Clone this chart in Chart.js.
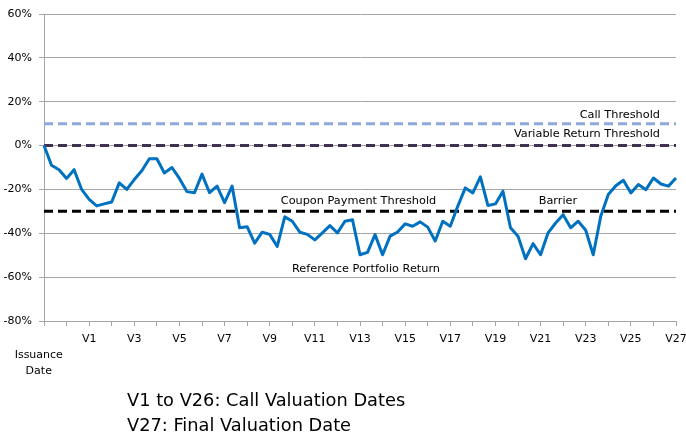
<!DOCTYPE html>
<html lang="en">
<head>
  <meta charset="UTF-8" />
  <title>Reference Portfolio Return</title>
  <script src="https://cdn.jsdelivr.net/npm/chart.js"></script>
  <style>
    body { margin: 0; background: #fff; }
    #wrap { position: relative; width: 686px; height: 437px; }
    #note {
      position: absolute; left: 127px; top: 387px;
      font-family: 'DejaVu Sans', sans-serif; font-size: 17.8px; line-height: 25px; color: #000;
    }
  </style>
</head>
<body>
  <div id="wrap">
    <canvas id="grafico" width="686" height="437"></canvas>
    <div id="note">V1 to V26: Call Valuation Dates<br>V27: Final Valuation Date</div>
  </div>

  <script>
    const valuationDates = ['V1', 'V2', 'V3', 'V4', 'V5', 'V6', 'V7', 'V8', 'V9', 'V10', 'V11', 'V12', 'V13', 'V14',
      'V15', 'V16', 'V17', 'V18', 'V19', 'V20', 'V21', 'V22', 'V23', 'V24', 'V25', 'V26', 'V27'];
    const pointsPerPeriod = 3;

    // reference portfolio return, in %
    const portfolioReturn = [
      0, -9, -11, -15, -11, -20, -24.5, -27.5, -26.6, -25.7,
      -17, -20, -15.5, -11.5, -6, -6, -12.5, -10, -15, -21,
      -21.5, -13, -21.5, -18.5, -26, -18.5, -37.5, -37, -44.5, -39.5,
      -40.5, -46, -32.5, -34.5, -39.5, -40.5, -43, -39.8, -36.5, -39.8,
      -34.5, -33.8, -49.8, -48.7, -40.6, -49.8, -41.3, -39.4, -35.7, -36.8,
      -34.8, -37.2, -43.5, -34.5, -36.8, -27.6, -19.3, -21.6, -14.3, -27.3,
      -26.6, -20.8, -37.5, -41.3, -51.6, -44.7, -49.8, -39.8, -35.3, -31.5,
      -37.5, -34.5, -38.6, -49.8, -32.2, -22.3, -18.3, -15.8, -21.6, -17.8,
      -20.1, -14.8, -17.5, -18.5, -14.8
    ];

    const callThreshold = 10;
    const variableReturnThreshold = 0;
    const barrier = -30;

    const yMin = -80, yMax = 60, yStep = 20;

    const categories = portfolioReturn.map((_, i) => {
      if (i === 0) return 'Issuance Date';
      if (i % pointsPerPeriod) return '';
      const k = i / pointsPerPeriod - 1;
      return k >= 1 ? valuationDates[k - 1] : '';
    });

    const fontFam = "'DejaVu Sans', sans-serif";

    // text next to the threshold lines and the return line
    const textLabels = {
      id: 'textLabels',
      afterDatasetsDraw(chart) {
        const { ctx, scales: { x, y } } = chart;
        const right = chart.chartArea.right - 16;
        ctx.save();
        ctx.font = '11.3px ' + fontFam;
        ctx.fillStyle = '#000';
        ctx.textBaseline = 'middle';
        ctx.textAlign = 'right';
        ctx.fillText('Call Threshold', right, y.getPixelForValue(callThreshold) - 9);
        ctx.fillText('Variable Return Threshold', right, y.getPixelForValue(variableReturnThreshold) - 11.5);
        ctx.textAlign = 'center';
        ctx.fillText('Coupon Payment Threshold', x.getPixelForValue(41.8), y.getPixelForValue(barrier) - 10);
        ctx.fillText('Barrier', x.getPixelForValue(68.3), y.getPixelForValue(barrier) - 10);
        ctx.fillText('Reference Portfolio Return', x.getPixelForValue(42.8), y.getPixelForValue(-55) + 3);
        ctx.restore();
      }
    };

    const ctx = document.getElementById('grafico').getContext('2d');
    const chart = new Chart(ctx, {
      type: 'line',
      data: {
        labels: categories,
        datasets: [
          {
            label: 'Reference Portfolio Return',
            data: portfolioReturn,
            borderColor: '#0070C0',
            borderWidth: 3,
            borderJoinStyle: 'round',
            pointRadius: 0,
            tension: 0
          },
          {
            label: 'Call Threshold',
            data: categories.map(() => callThreshold),
            borderColor: '#8EA9DB',
            borderWidth: 3,
            borderDash: [9, 5],
            pointRadius: 0
          },
          {
            label: 'Variable Return Threshold',
            data: categories.map(() => variableReturnThreshold),
            borderColor: '#403152',
            borderWidth: 3,
            borderDash: [9, 5],
            pointRadius: 0
          },
          {
            label: 'Barrier',
            data: categories.map(() => barrier),
            borderColor: '#000000',
            borderWidth: 3,
            borderDash: [9, 5],
            pointRadius: 0
          }
        ]
      },
      options: {
        responsive: false,
        animation: false,
        layout: { padding: { left: 0, right: 10, top: 14, bottom: 56 } },
        plugins: {
          legend: { display: false },
          tooltip: { enabled: false }
        },
        scales: {
          x: {
            afterFit: s => { s.height = 60; s.paddingLeft = 0; s.paddingRight = 0; },
            border: { display: true, color: '#a6a6a6' },
            grid: {
              drawOnChartArea: false,
              tickLength: 5,
              color: c => (c.index % pointsPerPeriod === 0 ? '#a6a6a6' : 'rgba(0,0,0,0)')
            },
            ticks: {
              autoSkip: false,
              maxRotation: 0,
              minRotation: 0,
              padding: 5,
              color: '#000',
              font: { family: fontFam, size: 11, lineHeight: 1.45 },
              callback: (v, i) => {
                const l = categories[i];
                if (l === 'Issuance Date') return ['', 'Issuance\u00a0\u00a0\u00a0', 'Date\u00a0\u00a0\u00a0'];
                if (!l) return '';
                return Number(l.slice(1)) % 2 === 1 ? l : '';
              }
            }
          },
          y: {
            min: yMin,
            max: yMax,
            afterFit: s => { s.width = 44; },
            border: { display: true, color: '#a6a6a6' },
            grid: { color: '#a6a6a6', tickLength: 5 },
            ticks: {
              stepSize: yStep,
              padding: 7,
              color: '#000',
              font: { family: fontFam, size: 11 },
              callback: v => v + '%'
            }
          }
        }
      },
      plugins: [textLabels]
    });
  </script>
</body>
</html>
